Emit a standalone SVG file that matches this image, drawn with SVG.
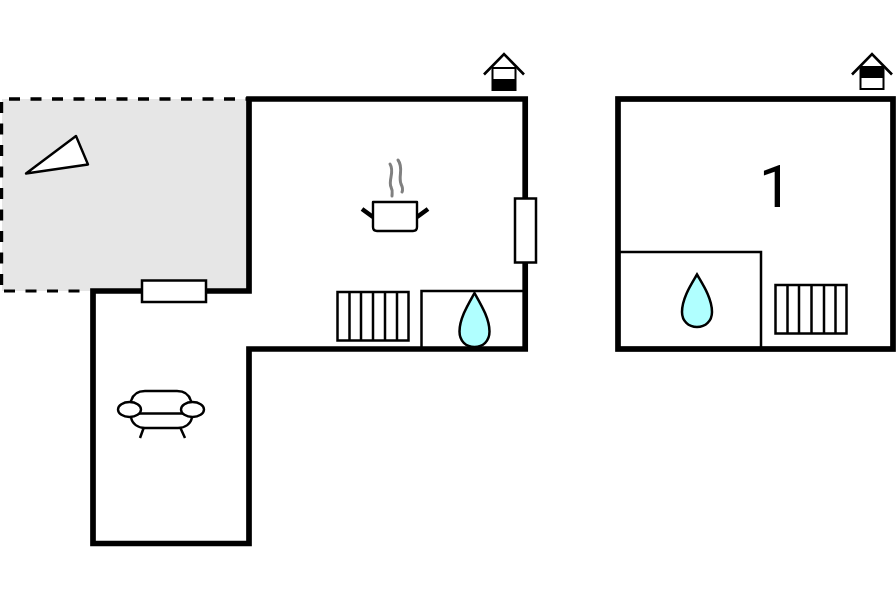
<svg xmlns="http://www.w3.org/2000/svg" width="896" height="597" viewBox="0 0 896 597">
<style>
.wall{fill:none;stroke:#000;stroke-width:5.700;stroke-linecap:square;stroke-linejoin:miter}
.thin{fill:none;stroke:#000;stroke-width:2.5}
.box{fill:#fff;stroke:#000;stroke-width:2.5}
.drop{fill:#b0ffff;stroke:#000;stroke-width:2.5}
.sym{fill:#fff;stroke:#000;stroke-width:2.4;stroke-linejoin:round}
.steam{fill:none;stroke:#808080;stroke-width:3;stroke-linecap:round}
.hs{fill:none;stroke:#000;stroke-width:2.6}
</style>
<rect width="896" height="597" fill="#fff"/>
<g id="terrace">
<rect x="2" y="99" width="246" height="192" fill="#e6e6e6"/>
<path d="M9 99H247" fill="none" stroke="#000" stroke-width="3.4" stroke-dasharray="11 10.5"/>
<path d="M1.5 102V291" fill="none" stroke="#000" stroke-width="3.4" stroke-dasharray="11 10.5"/>
<path d="M4 291H80" fill="none" stroke="#000" stroke-width="2.8" stroke-dasharray="11 10.5"/>
<path d="M26 173.500L76 136 88 164.500Z" class="sym"/>
</g>
<g id="ground-floor">
<path class="wall" d="M249 99H525.200V349H249V543.500H93V291H249Z"/>
<path class="thin" d="M421.500 348V291H525"/>
<rect class="box" x="142" y="280.500" width="64" height="21.500"/>
<rect class="box" x="515" y="198.500" width="21" height="64"/>
</g>
<g id="first-floor">
<rect class="wall" x="618" y="99" width="275" height="250"/>
<path class="thin" d="M619 252H761V348"/>
<text x="759" y="207" font-family="Roboto, Arial, sans-serif" font-size="59" fill="#000">1</text>
</g>
<g id="house-icon-ground">
<path class="hs" d="M484 74.500L504 54 524 74.500"/>
<rect x="492.500" y="68" width="23" height="22" fill="#fff" stroke="#000" stroke-width="2"/>
<rect x="492.500" y="79" width="23" height="11"/>
</g>
<g id="house-icon-first">
<path class="hs" d="M852 74.500L872 54 892 74.500"/>
<rect x="860.500" y="67" width="23" height="22" fill="#fff" stroke="#000" stroke-width="2"/>
<rect x="860.500" y="67" width="23" height="11"/>
</g>
<g id="kitchen">
<path class="steam" d="M390 164C395 172 388 180 391 187C393 191 392 193 392 196"/>
<path class="steam" d="M398 160C404 168 398 176 401 184C403 188 403 190 402 192"/>
<path d="M362 209L373 217M428 209L417 217" fill="none" stroke="#000" stroke-width="4.500"/>
<path class="sym" d="M373 202H417V227Q417 231 413 231H377Q373 231 373 227Z"/>
</g>
<g id="sofa">
<path class="thin" d="M144 427L140 438M180 427L185 438"/>
<path class="sym" d="M131 401C133 394 138 391 145 391H177C184 391 189 394 191 401L192 417C191 424 185 428 178 428H145C138 428 132 424 131 417Z"/>
<path class="thin" d="M131 413.500H192"/>
<ellipse class="sym" cx="129.500" cy="409.500" rx="11.500" ry="7.500"/>
<ellipse class="sym" cx="192.500" cy="409.500" rx="11.500" ry="7.500"/>
</g>
<g id="stairs-ground">
<rect class="box" x="337.500" y="292" width="71" height="48.500"/>
<path class="thin" d="M349.500 292V340.500M361 292V340.500M373 292V340.500M385 292V340.500M397 292V340.500"/>
</g>
<g id="stairs-first">
<rect class="box" x="775.500" y="285" width="71" height="48.500"/>
<path class="thin" d="M787.500 285V333.500M799 285V333.500M811.500 285V333.500M824 285V333.500M835.500 285V333.500"/>
</g>
<g id="bath-ground">
<path class="drop" d="M474.500 293C469 303 459.500 318 459.500 331.500C459.500 341 466 347 474.500 347C483 347 489.500 341 489.500 331.500C489.500 318 480 303 474.500 293Z"/>
</g>
<g id="bath-first">
<path class="drop" d="M697 274.500C691.500 284 682 298 682 312C682 321 688.500 327 697 327C705.500 327 712 321 712 312C712 298 702.500 284 697 274.500Z"/>
</g>
</svg>
